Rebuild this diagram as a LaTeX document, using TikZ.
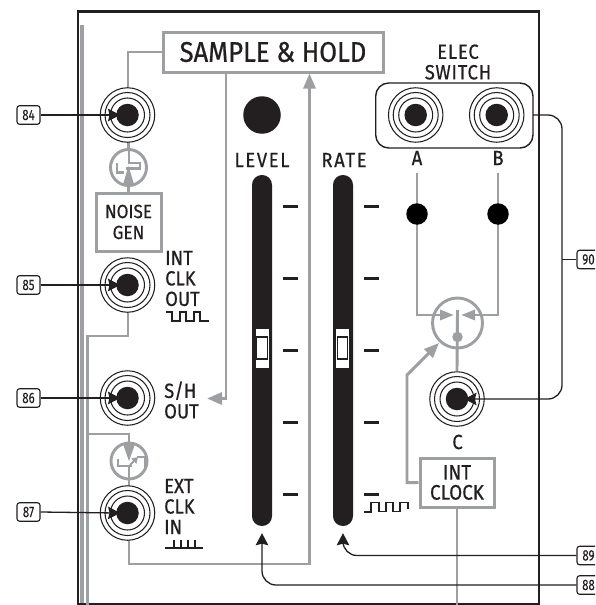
\documentclass[tikz,border=0pt]{standalone}
\usepackage{fontspec}
\usetikzlibrary{arrows.meta,calc}
\newfontfamily\labf[FakeStretch=0.90,FakeBold=0.6]{Fira Sans}
\newfontfamily\numf[FakeStretch=0.76,FakeBold=0.2]{Fira Sans}
\definecolor{ink}{HTML}{231F20}
\definecolor{gr}{HTML}{9D9FA2}
\tikzset{
 gline/.style={draw=gr,line width=2.9pt},
 garrow/.style={gline,-{Triangle[length=15pt,width=12pt]}},
 karrow/.style={draw=ink,line width=1.3pt,-{Stealth[length=12pt,width=12.5pt,inset=1.5pt]}},
 kline/.style={draw=ink,line width=1.3pt},
 gbox/.style={draw=gr,line width=3pt,fill=white,inner sep=0pt,align=center},
 numbox/.style={draw=ink,line width=1.1pt,fill=white,rounded corners=2.5pt,minimum width=23pt,minimum height=18.5pt,inner sep=0pt,font=\numf\fontsize{15}{15}\selectfont,text=ink},
 lab/.style={font=\labf\fontsize{20.5}{20.5}\selectfont,text=ink,inner sep=0pt,align=left},
 labc/.style={font=\labf\fontsize{20.5}{20.5}\selectfont,text=ink,inner sep=0pt,align=center},
 ring/.style={circle,draw=ink,line width=1.05pt,fill=white,inner sep=0pt},
 blob/.style={circle,fill=ink,inner sep=0pt},
 slider/.style={fill=ink,rounded corners=9.9pt,minimum width=20pt,minimum height=351pt,inner sep=0pt},
 tick/.style={draw=ink,line width=2.6pt},
 wave/.style={draw=ink,line width=1.9pt},
 handle/.style={fill=white,minimum width=13pt,minimum height=39pt,inner sep=0pt},
 handlein/.style={draw=ink,fill=white,line width=1.2pt,minimum width=10.5pt,minimum height=22pt,inner sep=0pt},
 sym/.style={circle,draw=gr,line width=2.9pt,fill=white,minimum size=36pt,inner sep=0pt},
 junct/.style={circle,fill=black,minimum size=21.5pt,inner sep=0pt},
}
\newcommand{\jackat}[3]{%
 \node[ring,minimum size=54.5pt] (#1) at (#2,#3) {};
 \node[ring,minimum size=45pt] at (#1.center) {};
 \node[ring,minimum size=34pt] at (#1.center) {};
 \node[blob,minimum size=22.5pt] (#1d) at (#1.center) {};
}
\begin{document}
\begin{tikzpicture}[x=1pt,y=-1pt]
\useasboundingbox (0,0) rectangle (595,605);
\clip (0,0) rectangle (595,605);
\fill[white] (0,0) rectangle (595,605);
% panel
\fill[gr] (80,25) rectangle (84,605);
\draw[ink,line width=2.6pt] (78,605) -- (78,11.3) -- (539,11.3) -- (539,605);
\draw[ink,line width=1.6pt] (78,604) -- (539,604);

% boxes
\node[gbox,minimum width=220pt,minimum height=40pt,font=\labf\fontsize{28.5}{28}\selectfont,text=ink] (sh) at (273,52) {SAMPLE \& HOLD};
\node[gbox,minimum width=65pt,minimum height=58pt,font=\labf\fontsize{19}{21}\selectfont,text=ink] (noise) at (128.5,222) {NOISE\\GEN};
\node[gbox,minimum width=74pt,minimum height=49pt,font=\labf\fontsize{21}{20}\selectfont,text=ink] (clock) at (457,482.5) {INT\\CLOCK};

% coordinates on the gray routes
\coordinate (c84) at (128,88);
\coordinate (shout) at (207,398.5);
\coordinate (busa) at (87.5,336);
\coordinate (busb) at (87.5,434);
\coordinate (bot1) at (87.5,605);

% gray wiring under jacks
\draw[gline] (sh.west) -| (c84);
\draw[gline] (128,300) |- (busa) -- (bot1);
\draw[gline] (busb) -| (129,490);
\draw[garrow] (226,72) |- (shout);
\draw[garrow] (129,530) |- (309.5,564) -- (309.5,73.5);
\draw[gline] (clock.south) -- (457,605);
\draw[gline] (128.5,140) -- (128.5,150);

% noise symbol
\node[sym] (symn) at (128.5,167.5) {};
\draw[draw=gr,line width=2.6pt] (129,149) -- (129,163) -- (140,163) -- (140,168.5) -- (126,168.5);
\draw[draw=gr,line width=2.6pt] (117,163) -- (117,172.5) -- (124,172.5);
\fill[gr] (128.5,166) -- (134.5,186) -- (122.5,186) -- cycle;
\draw[gline] (128.5,180) -- (noise.north);

% ext symbol
\node[sym] (syme) at (129,461) {};
\draw[gline] (129,434) -- (129,443);
\fill[gr] (129,461) -- (123,444) -- (135,444) -- cycle;
\draw[draw=gr,line width=2.6pt] (118,459) -- (118,466) -- (132,466);
\draw[draw=gr,line width=2pt,-{Triangle[length=6pt,width=7pt]}] (130,465) -- (138,457);
\draw[draw=gr,line width=2.6pt] (137,457) -- (145,457) -- (145,469);
\draw[gline] (129,466) -- (129,488);

% jacks
\jackat{j84}{127.5}{115}
\jackat{j85}{127.5}{285}
\jackat{j86}{127.5}{398}
\jackat{j87}{127.5}{513}
\jackat{ja}{415.7}{115}
\jackat{jb}{496.7}{115}
\jackat{jc}{457}{399}

% knob
\node[blob,minimum size=37.5pt] (knob) at (262,115) {};

% sliders
\node[slider] (sll) at (262,350.5) {};
\node[slider] (slr) at (343,350.5) {};
\node[handle] at (262,348.5) {};
\node[handlein] at (262,348) {};
\node[handle] at (342.5,348.5) {};
\node[handlein] at (342.5,348) {};
\foreach \yy in {206.5,278.5,350.5,422.5,494.5}{
 \draw[tick] (283,\yy) -- (297.5,\yy);
 \draw[tick] (364,\yy) -- (379,\yy);
}

% top labels
\node[labc] (tlevel) at (262,160) {\addfontfeature{LetterSpace=8}LEVEL};
\node[labc] (trate) at (344,160) {\addfontfeature{LetterSpace=8}RATE};
\node[labc] (tsw) at (458,62) {\addfontfeature{LetterSpace=4}ELEC\\\addfontfeature{LetterSpace=4}SWITCH};
\node[labc] (ta) at (417,158) {A};
\node[labc] (tb) at (498,158) {B};
\node[labc] (tc) at (457.5,442) {C};
\node[lab,anchor=west] (tint) at (165,278.5) {INT\\CLK\\OUT};
\node[lab,anchor=west] (tsh) at (164,400) {S/H\\OUT};
\node[lab,anchor=west] (text) at (164,506.5) {EXT\\CLK\\IN};

% waveforms
\draw[wave] (166,312) -- (172,312) -- (172,321) -- (180,321) -- (180,312) -- (186,312) -- (186,321) -- (194,321) -- (194,312) -- (200,312) -- (200,321) -- (208.5,321);
\draw[wave] (165,548) -- (203,548) (174,548) -- (174,540) (181,548) -- (181,540) (188,548) -- (188,540) (195,548) -- (195,540);
\draw[wave] (364.5,511) -- (364.5,512) -- (371,512) -- (371,502.5) -- (379,502.5) -- (379,511.5) -- (386,511.5) -- (386,502.5) -- (393,502.5) -- (393,511.5) -- (400,511.5) -- (400,502.5) -- (408,502.5) -- (408,509);

% electronic switch wiring
\node[sym,minimum size=50pt,fill=none] (sw) at (457.5,323) {};
\draw[gline] (417,173) -- (417,315) -- (433,315);
\draw[gline] (498,173) -- (498,315) -- (482,315);
\draw[gline,-{Triangle[length=14pt,width=10pt]}] (425,315) -- (454,315);
\draw[gline,-{Triangle[length=14pt,width=10pt]}] (490,315) -- (461,315);
\draw[gline] (457.5,310) -- (jc.north);
\node[circle,fill=gr,minimum size=10.5pt,inner sep=0pt] (swd) at (457.5,337) {};
\node[junct] (da) at (417,214) {};
\node[junct] (db) at (498,214) {};
\draw[garrow] (clock.west) -- (407,482.7) -- (407,375) -- (439,343);

% elec switch frame
\draw[ink,line width=1.4pt,rounded corners=13pt] (375.7,83) rectangle (533,148);
\coordinate (swr) at (533,115);

% number labels
\node[numbox] (n84) at (28.5,115) {84};
\node[numbox] (n85) at (28.5,285) {85};
\node[numbox] (n86) at (28.5,398) {86};
\node[numbox] (n87) at (28.5,512) {87};
\node[numbox] (n90) at (588.5,259.5) {90};
\node[numbox] (n89) at (588.5,555.5) {89};
\node[numbox] (n88) at (588.5,585) {88};

\foreach \nn/\jj in {84/j84d,85/j85d,86/j86d,87/j87d}
 \draw[karrow,shorten >=-4pt] (n\nn.east) -- (\jj.west);
\draw[kline,rounded corners=14pt] (swr) -| (562,259.5);
\draw[karrow,rounded corners=14pt,shorten >=-4pt] (562,259.5) |- (jcd.east);
\draw[kline] (n90.west) -- (562,259.5);
\draw[karrow,rounded corners=14pt,shorten >=7pt] (n89.west) -| (slr.south);
\draw[karrow,rounded corners=14pt,shorten >=7pt] (n88.west) -| (sll.south);
\end{tikzpicture}
\end{document}
